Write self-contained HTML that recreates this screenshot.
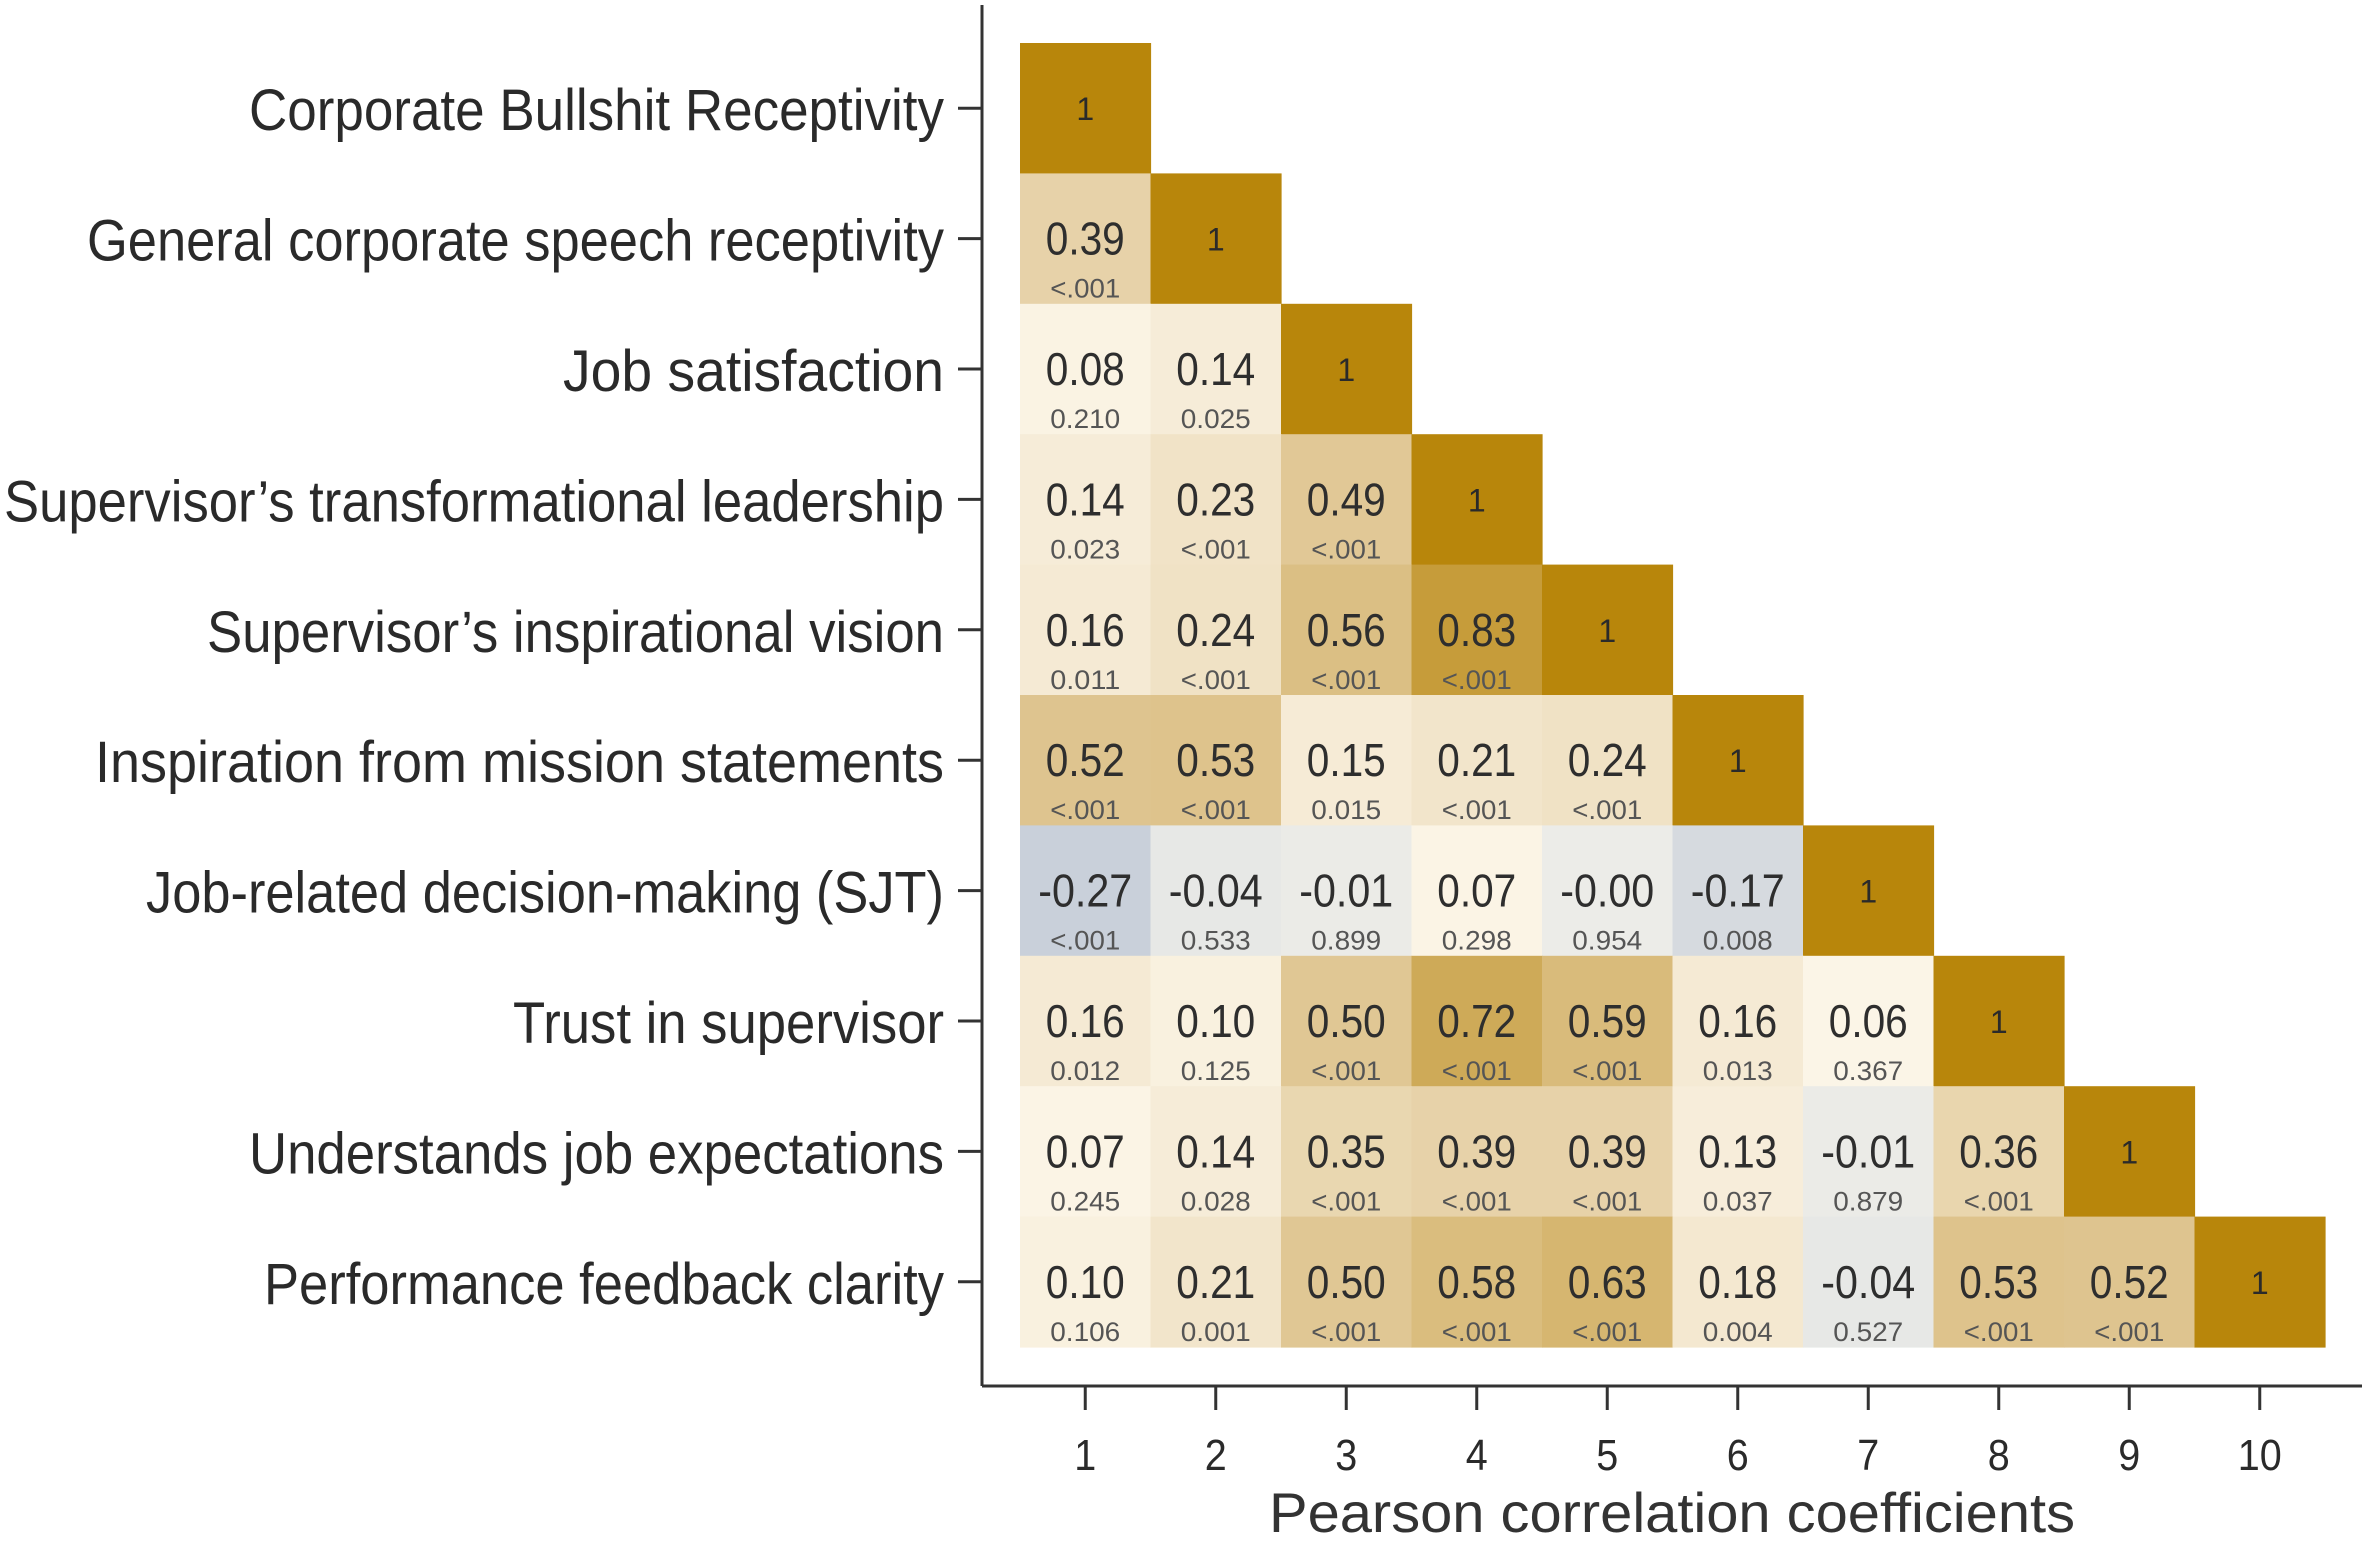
<!DOCTYPE html>
<html><head><meta charset="utf-8"><style>
html,body{margin:0;padding:0;background:#fff;}
svg{display:block;font-family:"Liberation Sans",sans-serif;}
</style></head><body>
<svg id="chart" width="2368" height="1547" viewBox="0 0 2368 1547" xmlns="http://www.w3.org/2000/svg">
<g id="cells"></g>
<g id="axes">
<line x1="982" y1="5" x2="982" y2="1386" stroke="#333" stroke-width="3"/>
<line x1="982" y1="1386" x2="2362" y2="1386" stroke="#333" stroke-width="3"/>
</g>
<g id="ylabels"></g>
<g id="xlabels"></g>
<text x="1672" y="1532" text-anchor="middle" font-size="56" fill="#333" textLength="806" lengthAdjust="spacingAndGlyphs">Pearson correlation coefficients</text>
</svg>
<script>
const variables = ["Corporate Bullshit Receptivity","General corporate speech receptivity","Job satisfaction","Supervisor’s transformational leadership","Supervisor’s inspirational vision","Inspiration from mission statements","Job-related decision-making (SJT)","Trust in supervisor","Understands job expectations","Performance feedback clarity"];
const labelWidths = [695,857,381,940,737,849,798,431,695,680];
const xTicks = ["1","2","3","4","5","6","7","8","9","10"];
const corr = [
 [1],
 [0.39,1],
 [0.08,0.14,1],
 [0.14,0.23,0.49,1],
 [0.16,0.24,0.56,0.83,1],
 [0.52,0.53,0.15,0.21,0.24,1],
 [-0.27,-0.04,-0.01,0.07,-0.001,-0.17,1],
 [0.16,0.10,0.50,0.72,0.59,0.16,0.06,1],
 [0.07,0.14,0.35,0.39,0.39,0.13,-0.01,0.36,1],
 [0.10,0.21,0.50,0.58,0.63,0.18,-0.04,0.53,0.52,1]
];
const corrLabels = [
 ["1"],
 ["0.39","1"],
 ["0.08","0.14","1"],
 ["0.14","0.23","0.49","1"],
 ["0.16","0.24","0.56","0.83","1"],
 ["0.52","0.53","0.15","0.21","0.24","1"],
 ["-0.27","-0.04","-0.01","0.07","-0.00","-0.17","1"],
 ["0.16","0.10","0.50","0.72","0.59","0.16","0.06","1"],
 ["0.07","0.14","0.35","0.39","0.39","0.13","-0.01","0.36","1"],
 ["0.10","0.21","0.50","0.58","0.63","0.18","-0.04","0.53","0.52","1"]
];
const pvals = [
 [""],
 ["<.001",""],
 ["0.210","0.025",""],
 ["0.023","<.001","<.001",""],
 ["0.011","<.001","<.001","<.001",""],
 ["<.001","<.001","0.015","<.001","<.001",""],
 ["<.001","0.533","0.899","0.298","0.954","0.008",""],
 ["0.012","0.125","<.001","<.001","<.001","0.013","0.367",""],
 ["0.245","0.028","<.001","<.001","<.001","0.037","0.879","<.001",""],
 ["0.106","0.001","<.001","<.001","<.001","0.004","0.527","<.001","<.001",""]
];
const NS="http://www.w3.org/2000/svg";
const x0=1020,y0=43,cw=130.5,ch=130.4;
const xPos=i=>x0+i*cw, yPos=i=>y0+i*ch;
function lerp(a,b,t){return a.map((v,k)=>Math.round(v+(b[k]-v)*t));}
function color(r){
  if(r>=0.999) return "#B8860B";
  let c;
  if(r>=0){
    const c0=[255,251,242],c1=[224,199,148],c2=[184,134,11];
    c = r<=0.5 ? lerp(c0,c1,r/0.5) : lerp(c1,c2,(r-0.5)/0.5);
  } else {
    const a=[236,236,232],d=[-35,-28,-14];const t=-r/0.27;
    c=a.map((v,k)=>Math.max(0,Math.round(v+d[k]*t)));
  }
  return "rgb("+c.join(",")+")";
}
const cells=document.getElementById('cells');
function mk(tag,attrs,parent,txt){const e=document.createElementNS(NS,tag);for(const k in attrs)e.setAttribute(k,attrs[k]);if(txt!==undefined)e.textContent=txt;parent.appendChild(e);return e;}
corr.forEach((row,i)=>{row.forEach((r,j)=>{
  const rect=mk('rect',{x:xPos(j),y:yPos(i),width:cw+0.6,height:ch+0.6,fill:color(r)},cells);
  
  
  const cx=xPos(j)+cw/2, cy=yPos(i)+ch/2;
  if(i===j){
    const t=mk('text',{x:cx,y:cy+12,'text-anchor':'middle','font-size':32,fill:'#2a2a2a'},cells,corrLabels[i][j]);
    
    
  } else {
    const s=corrLabels[i][j];
    const t=mk('text',{x:cx,y:cy+16,'text-anchor':'middle','font-size':46,fill:'#2e2e2e',textLength:s.length>4?94:79,lengthAdjust:'spacingAndGlyphs'},cells,s);
    
    
    const p=mk('text',{x:cx,y:cy+59,'text-anchor':'middle','font-size':27,fill:'#555',textLength:70,lengthAdjust:'spacingAndGlyphs'},cells,pvals[i][j]);
    
    
  }
});});
const yl=document.getElementById('ylabels');
variables.forEach((v,i)=>{
  const cy=yPos(i)+ch/2;
  const tk=mk('line',{x1:958,y1:cy,x2:982,y2:cy,stroke:'#333','stroke-width':3},yl);
  
  
  const t=mk('text',{x:944,y:cy+22,'text-anchor':'end','font-size':58,fill:'#2a2a2a',textLength:labelWidths[i],lengthAdjust:'spacingAndGlyphs'},yl,v);
  
  
});
const xl=document.getElementById('xlabels');
xTicks.forEach((v,i)=>{
  const cx=xPos(i)+cw/2;
  const tk=mk('line',{x1:cx,y1:1386,x2:cx,y2:1410,stroke:'#333','stroke-width':3},xl);
  
  
  const t=mk('text',{x:cx,y:1470,'text-anchor':'middle','font-size':44,fill:'#2a2a2a',textLength:v.length*22,lengthAdjust:'spacingAndGlyphs'},xl,v);
  
  
});
</script>
</body></html>
